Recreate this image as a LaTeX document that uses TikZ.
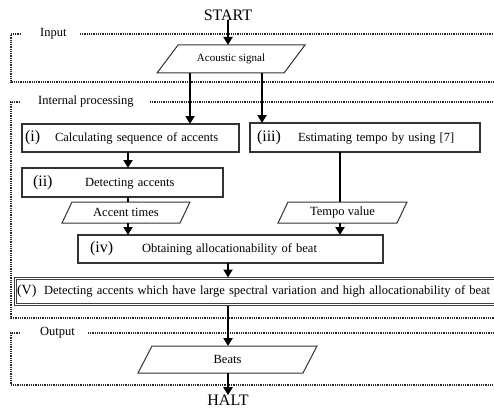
\documentclass[tikz,border=0pt]{standalone}
\usepackage{fontspec}
\setmainfont{Liberation Serif}
\usetikzlibrary{arrows.meta}
\newcommand\rnum[1]{{\fontsize{16}{18}\selectfont #1}}
\newcommand\paraborder[2]{\draw[iobord] ([xshift=#2]#1.north west) -- (#1.north east) -- ([xshift=-#2]#1.south east) -- (#1.south west) -- cycle;}
\begin{document}
\begin{tikzpicture}[x=1pt,y=-1pt,
  procbox/.style={draw=black!80, line width=1.1pt, minimum height=28pt, inner xsep=3pt, inner ysep=0pt, outer sep=0pt, align=left, anchor=west, font=\fontsize{12.5}{14}\selectfont},
  io/.style={inner sep=0pt, outer sep=0pt, font=\fontsize{12.5}{14}\selectfont},
  iobord/.style={draw=black!80, line width=1pt, line join=miter},
  arr/.style={line width=2pt, -{Triangle[length=8pt,width=9pt]}},
  link/.style={line width=2pt},
  grp/.style={draw=black!85, line width=1.3pt, dash pattern=on 0.9pt off 0.9pt},
  grplabel/.style={font=\fontsize{12.5}{14}\selectfont, anchor=west, inner sep=0pt},
  term/.style={font=\fontsize{16}{18}\selectfont, inner sep=0pt, outer sep=0pt}
]
\clip (0,0) rectangle (494,409);
\fill[white] (0,0) rectangle (494,409);

% group boxes
\node[grplabel] (lin) at (40,34) {Input};
\draw[grp] (21,34) -- (11,34) -- (11,82) -- (500,82);
\draw[grp] (80,34) -- (500,34);

\node[grplabel] (lint) at (38,102) {Internal processing};
\draw[grp] (20,102) -- (11,102) -- (11,318) -- (500,318);
\draw[grp] (150,102) -- (500,102);

\node[grplabel] (lout) at (40,333) {Output};
\draw[grp] (20,333) -- (11,333) -- (11,385) -- (500,385);
\draw[grp] (88,333) -- (500,333);

% column coordinates
\coordinate (cA) at (128,0);
\coordinate (cB) at (340,0);
\coordinate (cC) at (228,0);
\coordinate (cD) at (190,0);
\coordinate (cE) at (262,0);

% nodes
\node[term] (start) at (228,15) {START};
\node[term] (halt) at (228,400.5) {HALT};

\node[io, minimum width=148pt, minimum height=28pt, font=\fontsize{11}{13}\selectfont] (acoustic) at (231,59) {Acoustic signal};
\paraborder{acoustic}{21pt}

\node[procbox, text width=211pt] (p1) at (22,138) {\makebox[30pt][l]{\rnum{(i)}}Calculating sequence of accents};
\node[procbox, text width=224pt, minimum height=29pt] (p3) at (250,137.5) {\hspace*{4pt}\makebox[41pt][l]{\rnum{(iii)}}Estimating tempo by using [7]};
\node[procbox, text width=195pt, minimum height=29pt] (p2) at (22,182.5) {\hspace*{8pt}\makebox[52pt][l]{\rnum{(ii)}}Detecting accents};

\node[io, minimum width=128pt, minimum height=21pt] (accent) at (126,212.5) {Accent times};
\paraborder{accent}{10pt}
\node[io, minimum width=129pt, minimum height=21pt] (tempo) at (342.5,212.5) {Tempo value};
\paraborder{tempo}{10pt}

\node[procbox, text width=299pt] (p4) at (78,249) {\hspace*{9pt}\makebox[52pt][l]{\rnum{(iv)}}Obtaining allocationability of beat};

\node[procbox, text width=530pt, minimum height=28pt, line width=0.8pt, draw=black!75] (p5) at (14,291.5) {\hspace*{0pt}\makebox[27pt][l]{{\fontsize{14}{16}\selectfont (V)}}Detecting accents which have large spectral variation and high allocationability of beat};
\draw[line width=0.8pt, black!75] ([shift={(2pt,-2pt)}]p5.north west) rectangle ([shift={(-2pt,2pt)}]p5.south east);

\node[io, minimum width=179pt, minimum height=27pt] (beats) at (227.5,359.5) {Beats};
\paraborder{beats}{14pt}

% connectors
\draw[arr] (start.south) -- (start.south |- acoustic.north);
\draw[arr] (acoustic.south -| cD) -- (p1.north -| cD);
\draw[arr] (acoustic.south -| cE) -- (p3.north -| cE);
\draw[arr] (p1.south -| cA) -- (p2.north -| cA);
\draw[link] (p2.south -| cA) -- (accent.north -| cA);
\draw[arr] (accent.south -| cA) -- (p4.north -| cA);
\draw[link] (p3.south -| cB) -- (tempo.north -| cB);
\draw[arr] (tempo.south -| cB) -- (p4.north -| cB);
\draw[arr] (p4.south -| cC) -- (p5.north -| cC);
\draw[arr] (p5.south -| cC) -- (beats.north -| cC);
\draw[arr] (beats.south -| cC) -- (halt.north -| cC);
\end{tikzpicture}
\end{document}
